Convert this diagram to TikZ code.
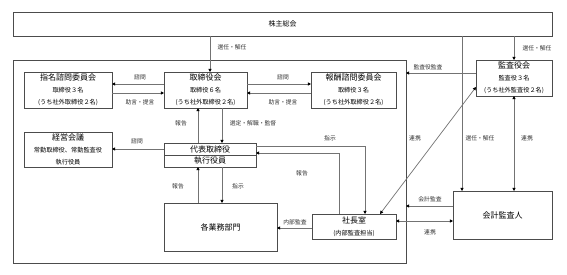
\documentclass[tikz,border=0pt]{standalone}
\usepackage{fontspec}
\setmainfont{Noto Sans CJK JP}
\usetikzlibrary{arrows.meta,calc}
\newcommand\bxt[1]{{\fontsize{8}{12}\selectfont #1}}
\begin{document}
\begin{tikzpicture}[x=1pt,y=-1pt,
  box/.style={draw=black!70, line width=0.6pt, fill=white, inner sep=0pt, outer sep=0pt, align=center, font=\fontsize{6.2}{12}\selectfont},
  big/.style={box, font=\fontsize{8}{9}\selectfont},
  line/.style={draw=black!55, line width=0.7pt},
  arr/.style={line, -{Triangle[length=3.2pt,width=3.2pt,color=black]}},
  darr/.style={line, {Triangle[length=3.2pt,width=3.2pt,color=black]}-{Triangle[length=3.2pt,width=3.2pt,color=black]}},
  lbl/.style={font=\fontsize{5.8}{7}\selectfont, text=black!80, inner sep=0pt},
]
\useasboundingbox (0,0) rectangle (567,275);
\fill[white] (0,0) rectangle (567,275);

% helper coordinates
\coordinate (x198) at (198,0);
\coordinate (x210) at (210,0);
\coordinate (x222) at (222,0);
\coordinate (x339) at (339,0);
\coordinate (x365) at (365,0);
\coordinate (x380) at (380,0);
\coordinate (x462) at (462,0);
\coordinate (y73) at (0,73);
\coordinate (y84) at (0,84);
\coordinate (y87) at (0,87);
\coordinate (y93) at (0,93);
\coordinate (y146) at (0,146);
\coordinate (y153) at (0,153);
\coordinate (y206) at (0,206);
\coordinate (y221) at (0,221);
\coordinate (y228) at (0,228);

% boxes
\node[box, minimum width=539pt, minimum height=24pt, font=\fontsize{7}{8}\selectfont] (kabu) at (282.5,24) {株主総会};
\node[box, minimum width=393pt, minimum height=203pt] (frame) at (209.5,161.5) {};
\node[box, minimum width=88pt, minimum height=36pt] (shimei) at (68,90) {\bxt{指名諮問委員会}\\取締役３名\\(うち社外取締役２名)};
\node[box, minimum width=83pt, minimum height=36pt] (tori) at (205.5,90) {\bxt{取締役会}\\取締役６名\\(うち社外取締役２名)};
\node[box, minimum width=85pt, minimum height=36pt] (hoshu) at (353.5,90) {\bxt{報酬諮問委員会}\\取締役３名\\(うち社外取締役２名)};
\node[box, minimum width=88pt, minimum height=35pt] (keiei) at (68,149.5) {\bxt{経営会議}\\常勤取締役、常勤監査役\\執行役員};
\node[big, minimum width=92pt, minimum height=12pt] (daihyo) at (210,149) {代表取締役};
\node[big, minimum width=92pt, minimum height=12pt] (shikko) at (210,161) {執行役員};
\node[big, minimum width=113pt, minimum height=48pt] (gyomu) at (220.5,227) {各業務部門};
\node[box, minimum width=84pt, minimum height=25pt] (shacho) at (354,226.5) {\bxt{社長室}\\(内部監査担当)};
\node[box, minimum width=76pt, minimum height=36pt] (kansa) at (514,78) {\bxt{監査役会}\\監査役３名\\(うち社外監査役２名)};
\node[big, minimum width=99pt, minimum height=48pt] (kaikei) at (502.5,215) {会計監査人};

% connectors
\draw[arr] (kabu.south -| x210) -- (tori.north -| x210);
\draw[arr] (kabu.south -| kansa.north) -- (kansa.north);
\draw[arr] (kabu.south -| x462) -- (kaikei.north -| x462);
\draw[darr] (kansa.south) -- (kaikei.north -| kansa.south);
\draw[arr] (kansa.west |- y73) -- (frame.east |- y73);
\draw[darr] (shacho.north -| x380) -- (kansa.west |- y87);
\draw[arr] (kaikei.west |- y206) -- (frame.east |- y206);
\draw[darr] (shacho.east |- y221) -- (kaikei.west |- y221);
\draw[arr] (shacho.west |- y228) -- (gyomu.east |- y228);
\draw[arr] (gyomu.north -| x198) -- (shikko.south -| x198);
\draw[arr] (shikko.south -| x222) -- (gyomu.north -| x222);
\draw[arr] (daihyo.north -| x198) -- (tori.south -| x198);
\draw[arr] (tori.south -| x222) -- (daihyo.north -| x222);
\draw[arr] (daihyo.west) -- (keiei.east |- daihyo.west);
\draw[arr] (tori.west |- y84) -- (shimei.east |- y84);
\draw[arr] (shimei.east |- y93) -- (tori.west |- y93);
\draw[arr] (tori.east |- y84) -- (hoshu.west |- y84);
\draw[arr] (hoshu.west |- y93) -- (tori.east |- y93);
\draw[arr] (daihyo.east |- y146) -| (shacho.north -| x365);
\draw[arr] (shacho.north -| x339) |- (daihyo.east |- y153);

% labels
\node[lbl] (l1) at (232,47) {選任・解任};
\node[lbl] (l2) at (537,48) {選任・解任};
\node[lbl] (l3) at (480,138) {選任・解任};
\node[lbl] (l4) at (527,138) {連携};
\node[lbl] (l5) at (415,138) {連携};
\node[lbl] (l6) at (428,67) {監査役監査};
\node[lbl] (l7) at (430,199) {会計監査};
\node[lbl] (l8) at (430,232) {連携};
\node[lbl] (l9) at (295,222) {内部監査};
\node[lbl] (l10) at (302,173) {報告};
\node[lbl] (l11) at (330,138) {指示};
\node[lbl] (l12) at (181,123) {報告};
\node[lbl] (l13) at (253,123) {選定・解職・監督};
\node[lbl] (l14) at (178,186) {報告};
\node[lbl] (l15) at (238,186) {指示};
\node[lbl] (l16) at (137,141) {諮問};
\node[lbl] (l17) at (140,77) {諮問};
\node[lbl] (l18) at (140,102) {助言・提言};
\node[lbl] (l19) at (283,77) {諮問};
\node[lbl] (l20) at (283,102) {助言・提言};
\end{tikzpicture}
\end{document}
